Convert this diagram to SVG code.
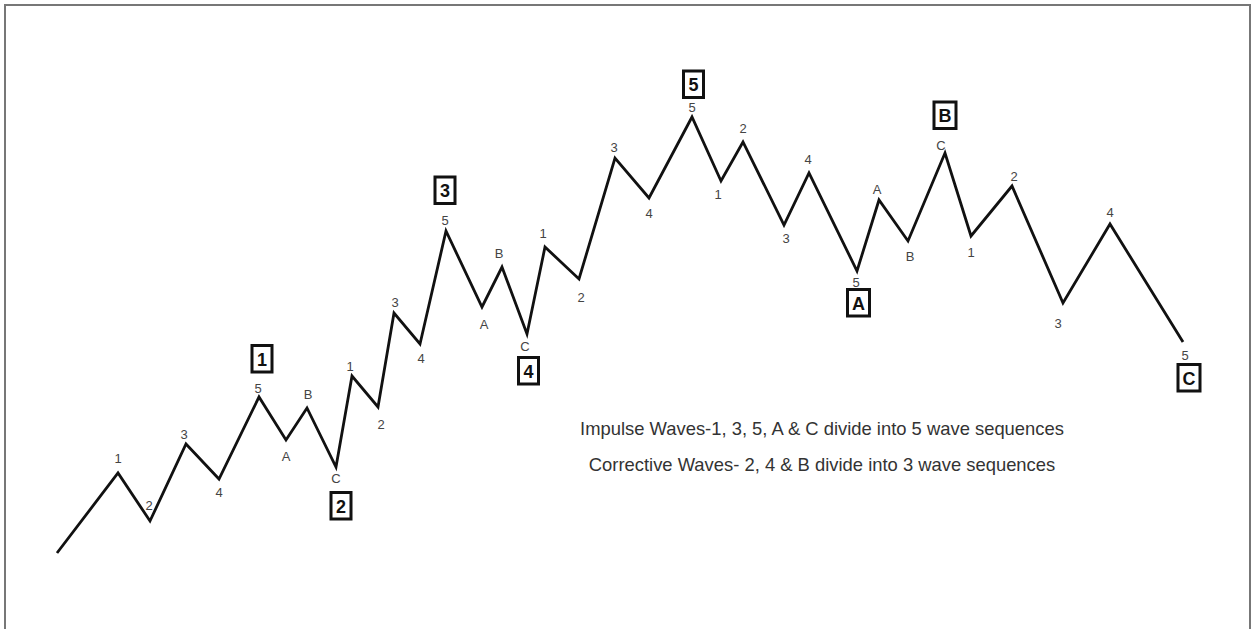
<svg xmlns="http://www.w3.org/2000/svg" width="1253" height="629" viewBox="0 0 1253 629">
<style>
.frame{fill:none;stroke:#777;stroke-width:2}
.wave{fill:none;stroke:#111;stroke-width:2.8;stroke-linejoin:miter;stroke-miterlimit:10}
.lbl{font-family:"Liberation Sans",Arial,sans-serif;font-size:13px;fill:#444;text-anchor:middle}
.box rect{fill:#fff;stroke:#111;stroke-width:3}
.box text{font-family:"Liberation Sans",Arial,sans-serif;font-size:18px;font-weight:bold;fill:#111;text-anchor:middle}
.note{font-family:"Liberation Sans",Arial,sans-serif;font-size:18.4px;fill:#333;text-anchor:middle}
</style>
<rect width="1253" height="629" fill="#fff"/>
<path class="frame" d="M5,629 V5 H1250 V629"/>
<g id="connectors">
<polyline class="wave" points="57,553 118,473 150,521 186,444 219,479 259,397 286,440 307,408 336,467 352,376 378,407 394,313 420,344 446,231 482,307 502,267 527,334 545,247 579,279 615,158 649,198 692,117 721,181 743,142 784,225 809,173 857,271 879,200 908,241 945,153 971,236 1012,186 1063,303 1110,224 1183,342"/>
</g>
<g id="labels">
<g id="l1"><text class="lbl" x="118" y="463">1</text></g>
<g id="l2"><text class="lbl" x="149" y="510">2</text></g>
<g id="l3"><text class="lbl" x="184" y="439">3</text></g>
<g id="l4"><text class="lbl" x="219" y="497">4</text></g>
<g id="l5"><text class="lbl" x="258" y="393">5</text></g>
<g id="l6"><text class="lbl" x="286" y="461">A</text></g>
<g id="l7"><text class="lbl" x="308" y="399">B</text></g>
<g id="l8"><text class="lbl" x="336" y="483">C</text></g>
<g id="l9"><text class="lbl" x="350" y="371">1</text></g>
<g id="l10"><text class="lbl" x="381" y="429">2</text></g>
<g id="l11"><text class="lbl" x="395" y="307">3</text></g>
<g id="l12"><text class="lbl" x="421" y="363">4</text></g>
<g id="l13"><text class="lbl" x="445" y="225">5</text></g>
<g id="l14"><text class="lbl" x="484" y="329">A</text></g>
<g id="l15"><text class="lbl" x="499" y="258">B</text></g>
<g id="l16"><text class="lbl" x="525" y="351">C</text></g>
<g id="l17"><text class="lbl" x="543" y="238">1</text></g>
<g id="l18"><text class="lbl" x="581" y="302">2</text></g>
<g id="l19"><text class="lbl" x="614" y="152">3</text></g>
<g id="l20"><text class="lbl" x="649" y="218">4</text></g>
<g id="l21"><text class="lbl" x="692" y="112">5</text></g>
<g id="l22"><text class="lbl" x="718" y="199">1</text></g>
<g id="l23"><text class="lbl" x="743" y="133">2</text></g>
<g id="l24"><text class="lbl" x="786" y="243">3</text></g>
<g id="l25"><text class="lbl" x="808" y="164">4</text></g>
<g id="l26"><text class="lbl" x="856" y="287">5</text></g>
<g id="l27"><text class="lbl" x="877" y="194">A</text></g>
<g id="l28"><text class="lbl" x="910" y="261">B</text></g>
<g id="l29"><text class="lbl" x="941" y="150">C</text></g>
<g id="l30"><text class="lbl" x="971" y="257">1</text></g>
<g id="l31"><text class="lbl" x="1014" y="181">2</text></g>
<g id="l32"><text class="lbl" x="1058" y="328">3</text></g>
<g id="l33"><text class="lbl" x="1110" y="217">4</text></g>
<g id="l34"><text class="lbl" x="1185" y="360">5</text></g>
</g>
<g id="box1" class="box"><rect x="252" y="345.5" width="20" height="26.5"/><text x="262" y="365.5">1</text></g>
<g id="box2" class="box"><rect x="331" y="492.5" width="20" height="26.5"/><text x="341" y="512.5">2</text></g>
<g id="box3" class="box"><rect x="435" y="177" width="20" height="26.5"/><text x="445" y="197">3</text></g>
<g id="box4" class="box"><rect x="518.5" y="357.5" width="20" height="26.5"/><text x="528.5" y="377.5">4</text></g>
<g id="box5" class="box"><rect x="683.5" y="71" width="20" height="26.5"/><text x="693.5" y="91">5</text></g>
<g id="boxA" class="box"><rect x="847.5" y="289.5" width="22" height="26.5"/><text x="858.5" y="309.5">A</text></g>
<g id="boxB" class="box"><rect x="934" y="102" width="22" height="26.5"/><text x="945" y="122">B</text></g>
<g id="boxC" class="box"><rect x="1178" y="364.5" width="22" height="26.5"/><text x="1189" y="384.5">C</text></g>
<g id="notes">
<text class="note" x="822" y="434.5">Impulse Waves-1, 3, 5, A &amp; C divide into 5 wave sequences</text>
<text class="note" x="822" y="471">Corrective Waves- 2, 4 &amp; B divide into 3 wave sequences</text>
</g>
</svg>
